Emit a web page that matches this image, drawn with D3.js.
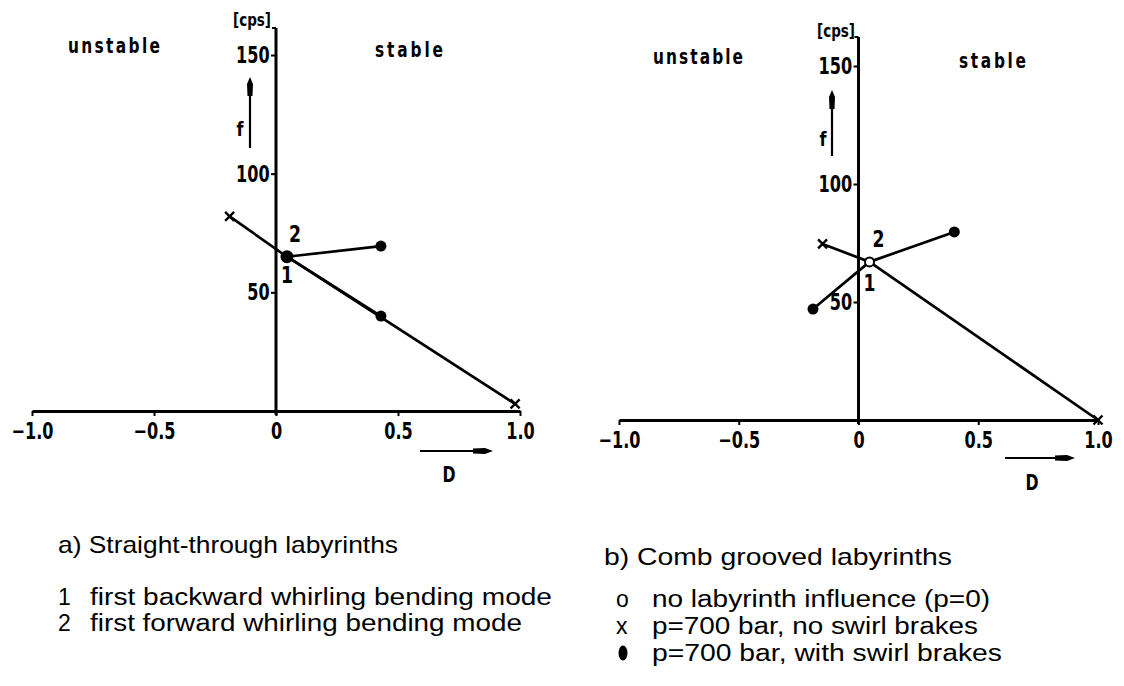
<!DOCTYPE html>
<html><head><meta charset="utf-8">
<script src="https://cdn.jsdelivr.net/npm/d3@7"></script>
<style>body{margin:0;background:#fff}</style>
</head><body>
<svg id="c" width="1124" height="686"></svg>
<script>
// ---- data ----
const xTickValues = [-1.0, -0.5, 0, 0.5, 1.0];
const xTickLabels = ["\u22121.0", "\u22120.5", "0", "0.5", "1.0"];
const yTickValues = [50, 100, 150];
const yTickLabels = ["50", "100", "150"];

// panel a) straight-through labyrinths
const baseA = [{D: 0.045, f: 65}];
const noSwirlA = [{D: -0.19, f: 82}, {D: 0.98, f: 3}];
const withSwirlA = [{D: 0.43, f: 69.5}, {D: 0.43, f: 40}];
// panel b) comb grooved labyrinths
const baseB = [{D: 0.046, f: 67}];
const noSwirlB = [{D: -0.15, f: 74.6}, {D: 1.0, f: 0}];
const withSwirlB = [{D: 0.40, f: 79.7}, {D: -0.19, f: 47}];

const captions = ["a) Straight-through labyrinths", "b) Comb grooved labyrinths"];
const modeKeys = ["1", "2"];
const modeTexts = ["first backward whirling bending mode", "first forward whirling bending mode"];
const symbolKeys = ["o", "x", "\u25CF"];
const symbolTexts = ["no labyrinth influence (p=0)", "p=700 bar, no swirl brakes", "p=700 bar, with swirl brakes"];

// ---- layout ----
const svg = d3.select("#c");
const DIN = "'DejaVu Sans',sans-serif";
const HEL = "'Liberation Sans',Arial,sans-serif";
const SX = 0.7;

function condText(parent, str, x, y, opt) {
  const s = opt.scale || SX;
  const g = parent.append("g").attr("transform", `translate(${x},${y}) scale(${s},1)`);
  const t = g.append("text").attr("x", 0).attr("y", 0)
    .attr("text-anchor", opt.anchor || "start")
    .attr("font-family", DIN).attr("font-weight", "bold")
    .attr("font-size", opt.size || 22).attr("fill", "#000").text(str);
  if (opt.len) t.attr("textLength", opt.len / s).attr("lengthAdjust", "spacing");
  return t;
}

const panels = [
  {base: baseA, xs: noSwirlA, dots: withSwirlA, baseOpen: false,
   xr: [32, 520], yr: [411, 55], axisTop: 28,
   cps: [271, 26], unst: [68, 53, 92], stab: [375, 57, 68],
   fArrow: [250, 77, 148], fLab: [240, 136],
   dArrow: [420, 493, 451], dLab: [449, 482],
   lab2: [8, -15], lab1: [0, 26]},
  {base: baseB, xs: noSwirlB, dots: withSwirlB, baseOpen: true,
   xr: [619, 1098], yr: [420, 66], axisTop: 37,
   cps: [855, 37], unst: [653, 64, 90], stab: [959, 68, 67],
   fArrow: [832, 90, 156], fLab: [823, 146],
   dArrow: [1005, 1075, 458], dLab: [1032, 490],
   lab2: [9, -15], lab1: [0, 29]}
];

panels.forEach(p => {
  const x = d3.scaleLinear([-1, 1], p.xr);
  const y = d3.scaleLinear([0, 150], p.yr);
  const g = svg.append("g");

  // x axis
  const xa = g.append("g").attr("transform", `translate(0,${y(0)})`)
    .call(d3.axisBottom(x).tickValues(xTickValues).tickFormat((d, i) => xTickLabels[i])
      .tickSizeInner(5).tickSizeOuter(0).tickPadding(7));
  xa.select(".domain").attr("stroke", "#000").attr("stroke-width", 2.8);
  xa.selectAll(".tick line").attr("stroke", "#000").attr("stroke-width", 2);
  xa.selectAll(".tick text").attr("font-family", DIN).attr("font-weight", "bold")
    .attr("font-size", 23).attr("fill", "#000").attr("transform", `scale(${SX},1)`);

  // y axis
  const ya = g.append("g").attr("transform", `translate(${x(0)},0)`)
    .call(d3.axisLeft(y).tickValues(yTickValues).tickFormat((d, i) => yTickLabels[i])
      .tickSizeInner(5).tickSizeOuter(0).tickPadding(4));
  ya.select(".domain").remove();
  ya.selectAll(".tick line").attr("stroke", "#000").attr("stroke-width", 2);
  ya.selectAll(".tick text").attr("font-family", DIN).attr("font-weight", "bold")
    .attr("font-size", 23).attr("fill", "#000").attr("transform", `scale(${SX},1)`);
  g.append("line").attr("x1", x(0)).attr("x2", x(0)).attr("y1", y(0) + 4).attr("y2", p.axisTop)
    .attr("stroke", "#000").attr("stroke-width", 3);
  g.append("line").attr("x1", x(0)).attr("x2", x(0) - 4).attr("y1", p.axisTop).attr("y2", p.axisTop)
    .attr("stroke", "#000").attr("stroke-width", 2);

  // text labels
  condText(g, "[cps]", p.cps[0], p.cps[1], {anchor: "end", size: 18, scale: 0.75});
  condText(g, "unstable", p.unst[0], p.unst[1], {size: 22, scale: 0.7, len: p.unst[2]});
  condText(g, "stable", p.stab[0], p.stab[1], {size: 22, scale: 0.7, len: p.stab[2]});

  // f arrow
  const [fx, fTop, fBot] = p.fArrow;
  g.append("line").attr("x1", fx).attr("x2", fx).attr("y1", fBot).attr("y2", fTop + 10)
    .attr("stroke", "#000").attr("stroke-width", 2.2);
  g.append("path").attr("d", `M${fx},${fTop} L${fx + 3},${fTop + 7} L${fx + 2.5},${fTop + 19} L${fx - 2.5},${fTop + 19} L${fx - 3},${fTop + 7} Z`)
    .attr("fill", "#000");
  condText(g, "f", p.fLab[0], p.fLab[1], {anchor: "middle", size: 20, scale: 0.8});

  // D arrow
  const [dx0, dx1, dy] = p.dArrow;
  g.append("line").attr("x1", dx0).attr("x2", dx1 - 10).attr("y1", dy).attr("y2", dy)
    .attr("stroke", "#000").attr("stroke-width", 2.2);
  g.append("path").attr("d", `M${dx1},${dy} L${dx1 - 8},${dy - 3} L${dx1 - 20},${dy - 2.5} L${dx1 - 20},${dy + 2.5} L${dx1 - 8},${dy + 3} Z`)
    .attr("fill", "#000");
  condText(g, "D", p.dLab[0], p.dLab[1], {anchor: "middle", size: 21, scale: 0.75});

  // lines from base point
  const b = p.base[0];
  const lineGen = d3.line().x(d => x(d.D)).y(d => y(d.f));
  p.xs.concat(p.dots).forEach(e => {
    g.append("path").attr("d", lineGen([b, e])).attr("fill", "none")
      .attr("stroke", "#000").attr("stroke-width", 2.7);
  });

  // markers
  g.selectAll(".xm").data(p.xs).enter().append("path")
    .attr("d", d => { const cx = x(d.D), cy = y(d.f), s = 4.5;
      return `M${cx - s},${cy - s}L${cx + s},${cy + s}M${cx - s},${cy + s}L${cx + s},${cy - s}`; })
    .attr("stroke", "#000").attr("stroke-width", 2.4);
  g.selectAll(".dm").data(p.dots).enter().append("circle")
    .attr("cx", d => x(d.D)).attr("cy", d => y(d.f)).attr("r", 5.5).attr("fill", "#000");
  g.selectAll(".bm").data(p.base).enter().append("circle")
    .attr("cx", d => x(d.D)).attr("cy", d => y(d.f)).attr("r", p.baseOpen ? 4.5 : 5.5)
    .attr("fill", p.baseOpen ? "#fff" : "#000").attr("stroke", "#000").attr("stroke-width", 2);

  // mode labels
  condText(g, modeKeys[1], x(b.D) + p.lab2[0], y(b.f) + p.lab2[1], {anchor: "middle", size: 23, scale: 0.75});
  condText(g, modeKeys[0], x(b.D) + p.lab1[0], y(b.f) + p.lab1[1], {anchor: "middle", size: 23, scale: 0.75});
});

// ---- captions and legends ----
function txt(t, xx, yy, len, size) {
  const e = svg.append("text").attr("x", xx).attr("y", yy).attr("font-family", HEL)
    .attr("font-size", size || 23).attr("fill", "#000").text(t);
  if (len) e.attr("textLength", len).attr("lengthAdjust", "spacingAndGlyphs");
  return e;
}
txt(captions[0], 58, 553, 340, 24);
txt(captions[1], 604, 565, 348, 24);
const modeY = [605, 631];
modeTexts.forEach((t, i) => { txt(modeKeys[i], 58, modeY[i]); txt(t, 90, modeY[i], i === 0 ? 462 : 432); });
const symY = [607, 634, 661];
const symLen = [338, 326, 350];
symbolTexts.forEach((t, i) => {
  if (i === 2) svg.append("ellipse").attr("cx", 623).attr("cy", symY[i] - 8).attr("rx", 4.5).attr("ry", 7.5).attr("fill", "#000");
  else txt(symbolKeys[i], 616, symY[i]);
  txt(t, 652, symY[i], symLen[i]);
});
</script>
</body></html>
